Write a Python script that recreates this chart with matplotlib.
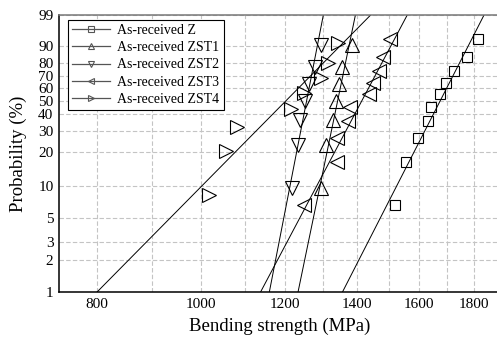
import numpy as np
import matplotlib
matplotlib.use('Agg')
import matplotlib.pyplot as plt
from matplotlib.lines import Line2D
from matplotlib.ticker import NullLocator

plt.rcParams['font.family'] = ['Liberation Serif', 'DejaVu Serif']

# failure probability (%) for each rank
prob_n10 = [6.7, 16.3, 26.0, 35.6, 45.2, 54.8, 64.4, 74.0, 83.7, 93.3]
prob_n7 = [9.5, 23.0, 36.5, 50.0, 63.5, 77.0, 90.5]
prob_n8 = [8.3, 20.2, 32.1, 44.0, 56.0, 67.9, 79.8, 91.7]

# bending strength (MPa)
z_strength = [1519, 1556, 1597, 1632, 1642, 1675, 1696, 1726, 1775, 1818]
zst1_strength = [1297, 1309, 1329, 1339, 1347, 1355, 1385]
zst2_strength = [1218, 1232, 1239, 1251, 1262, 1280, 1295]
zst3_strength = [1248, 1342, 1342, 1372, 1379, 1437, 1449, 1469, 1481, 1503]
zst4_strength = [1017, 1055, 1082, 1214, 1248, 1295, 1315, 1343]

# Weibull fits: modulus m, characteristic strength s0
labels = ['As-received Z', 'As-received ZST1', 'As-received ZST2',
          'As-received ZST3', 'As-received ZST4']
weibull_m = [20.1, 49.6, 52.7, 19.4, 10.4]
weibull_s0 = [1706, 1353, 1265, 1442, 1245]

y_ticks = [1, 2, 3, 5, 10, 20, 30, 40, 50, 60, 70, 80, 90, 99]
x_ticks = [800, 900, 1000, 1100, 1200, 1300, 1400, 1500, 1600, 1700, 1800]


def fwd(p):
    p = np.clip(np.asarray(p, dtype=float), 1e-6, 100 - 1e-6)
    return np.log(-np.log(1 - p / 100.0))


def inv(y):
    return 100.0 * (1 - np.exp(-np.exp(y)))


fig = plt.figure(figsize=(4.97, 3.38), dpi=100)
ax = fig.add_axes([59 / 497, 46 / 338, 441 / 497, 277 / 338])
ax.set_xscale('log')
ax.set_yscale('function', functions=(fwd, inv))

series = [(z_strength, prob_n10, 's', 7.7),
          (zst1_strength, prob_n7, '^', 10.5),
          (zst2_strength, prob_n7, 'v', 10.5),
          (zst3_strength, prob_n10, '<', 10.5),
          (zst4_strength, prob_n8, '>', 10.5)]

handles = []
for (xs, ps, mk, ms), m, s0, lab in zip(series, weibull_m, weibull_s0, labels):
    ax.plot(xs, ps, linestyle='none', marker=mk, markersize=ms,
            mfc='none', mec='black', mew=0.8, zorder=3)
    pf = np.array([0.05, 99.99])
    xf = s0 * (-np.log(1 - pf / 100.0)) ** (1.0 / m)
    ax.plot(xf, pf, color='black', lw=0.7, zorder=2)
    handles.append(Line2D([], [], color='#555555', lw=0.9, marker=mk,
                          markersize=4, mfc='none', mec='#555555', mew=0.8,
                          label=lab))

ax.set_xlim(737, 1905)
ax.set_ylim(1, 99)

ax.set_xticks(x_ticks)
ax.set_xticklabels([str(v) if v % 200 == 0 else '' for v in x_ticks])
ax.xaxis.set_minor_locator(NullLocator())
ax.set_yticks(y_ticks)
ax.set_yticklabels([str(v) for v in y_ticks])
ax.yaxis.set_minor_locator(NullLocator())
ax.tick_params(length=0, labelsize=11, pad=4)

ax.grid(True, color='#c4c4c4', linestyle=(0, (4, 2)), linewidth=0.8)
ax.set_axisbelow(True)

ax.spines['left'].set_linewidth(1.1)
ax.spines['bottom'].set_linewidth(1.1)
ax.spines['top'].set_color('#777777')
ax.spines['top'].set_linewidth(1.1)
ax.spines['right'].set_visible(False)

ax.set_xlabel('Bending strength (MPa)', fontsize=13.5, labelpad=5)
ax.set_ylabel('Probability (%)', fontsize=13.5, labelpad=8)

leg = ax.legend(handles=handles, loc='upper left',
                bbox_to_anchor=(0.0205, 0.982), borderaxespad=0,
                fontsize=10, handlelength=2.75, handletextpad=0.5,
                borderpad=0.3, labelspacing=0.3, fancybox=False,
                framealpha=1, edgecolor='black')
leg.get_frame().set_linewidth(0.8)

fig.savefig('out.png', dpi=100)
